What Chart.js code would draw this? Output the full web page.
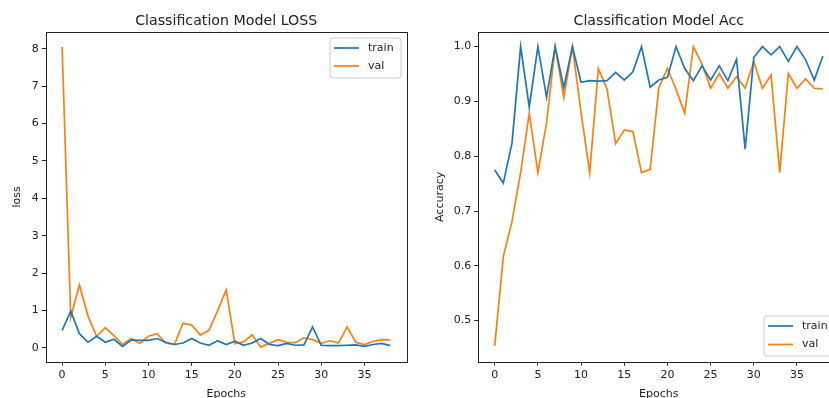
<!DOCTYPE html>
<html>
<head>
<meta charset="utf-8">
<script src="https://cdn.jsdelivr.net/npm/chart.js@4.4.0/dist/chart.umd.min.js"></script>
<style>
    html, body { margin: 0; padding: 0; background: #fff; overflow: hidden; width: 829px; height: 398px; }
    canvas { position: absolute; top: 0; }
    #graficoLoss { left: 0; width: 415px; height: 398px; }
    #graficoAcc { left: 400px; width: 450px; height: 398px; }
</style>
</head>
<body>
<canvas id="graficoLoss" width="415" height="398"></canvas>
<canvas id="graficoAcc" width="450" height="398"></canvas>
<script>
// epocas de treino
const epocas = [0, 1, 2, 3, 4, 5, 6, 7, 8, 9, 10, 11, 12, 13, 14, 15, 16, 17, 18, 19,
    20, 21, 22, 23, 24, 25, 26, 27, 28, 29, 30, 31, 32, 33, 34, 35, 36, 37, 38];

const lossTrain = [0.47, 0.98, 0.38, 0.15, 0.31, 0.15, 0.23, 0.04, 0.21, 0.20,
    0.20, 0.25, 0.15, 0.09, 0.13, 0.25, 0.13, 0.07, 0.19, 0.09,
    0.18, 0.07, 0.13, 0.25, 0.09, 0.06, 0.12, 0.07, 0.08, 0.56,
    0.07, 0.06, 0.06, 0.07, 0.08, 0.04, 0.09, 0.12, 0.06];

const lossVal = [8.05, 0.82, 1.68, 0.85, 0.31, 0.54, 0.33, 0.09, 0.25, 0.12,
    0.31, 0.38, 0.13, 0.09, 0.66, 0.61, 0.34, 0.47, 0.99, 1.55,
    0.11, 0.16, 0.35, 0.02, 0.12, 0.22, 0.15, 0.14, 0.27, 0.22,
    0.12, 0.19, 0.13, 0.56, 0.15, 0.09, 0.17, 0.22, 0.21];

const accTrain = [0.775, 0.751, 0.824, 1.0, 0.890, 1.0, 0.908, 1.0, 0.925, 1.0,
    0.935, 0.938, 0.937, 0.938, 0.953, 0.939, 0.954, 1.0, 0.926, 0.939,
    0.944, 1.0, 0.960, 0.938, 0.965, 0.939, 0.965, 0.938, 0.977, 0.813,
    0.980, 1.0, 0.985, 1.0, 0.973, 1.0, 0.976, 0.939, 0.983];

const accVal = [0.454, 0.617, 0.681, 0.770, 0.878, 0.770, 0.861, 1.0, 0.907, 1.0,
    0.879, 0.770, 0.960, 0.923, 0.823, 0.848, 0.845, 0.770, 0.776, 0.925,
    0.960, 0.922, 0.878, 1.0, 0.968, 0.924, 0.951, 0.924, 0.945, 0.924,
    0.973, 0.924, 0.948, 0.770, 0.951, 0.924, 0.941, 0.924, 0.923];

const ticksX = [0, 5, 10, 15, 20, 25, 30, 35];
const ticksLoss = [0, 1, 2, 3, 4, 5, 6, 7, 8];
const ticksAcc = [0.5, 0.6, 0.7, 0.8, 0.9, 1.0];

const FONTE = "'DejaVu Sans', 'Liberation Sans', sans-serif";
const COR_TEXTO = '#222222';

function pontos(valores) {
    return valores.map(function (v, i) {
        return { x: epocas[i], y: v };
    });
}

// desenha moldura, titulos e legenda no estilo do matplotlib
const pluginMoldura = {
    id: 'moldura',
    afterDraw(chart, args, opts) {
        const ctx = chart.ctx;
        const area = chart.chartArea;
        const meioX = (area.left + area.right) / 2;
        const meioY = (area.top + area.bottom) / 2;

        ctx.save();
        ctx.strokeStyle = '#222222';
        ctx.lineWidth = 1;
        ctx.strokeRect(Math.round(area.left) + 0.5, Math.round(area.top) + 0.5,
            Math.round(area.right - area.left), Math.round(area.bottom - area.top));

        ctx.fillStyle = COR_TEXTO;
        ctx.textAlign = 'center';
        ctx.textBaseline = 'alphabetic';
        ctx.font = `14.2px ${FONTE}`;
        ctx.fillText(opts.titulo, meioX, 25);

        ctx.font = `11px ${FONTE}`;
        ctx.fillText('Epochs', meioX, 396.5);

        ctx.save();
        ctx.translate(opts.eixoYx - (chart.canvas.offsetLeft || 0), meioY);
        ctx.rotate(-Math.PI / 2);
        ctx.textBaseline = 'middle';
        ctx.fillText(opts.eixoY, 0, 0);
        ctx.restore();

        // legenda
        const leg = opts.legenda;
        const caixaX = leg.x - (chart.canvas.offsetLeft || 0);
        ctx.beginPath();
        ctx.roundRect(caixaX + 0.5, leg.y + 0.5, leg.w, leg.h, 3);
        ctx.fillStyle = 'rgba(255,255,255,0.8)';
        ctx.fill();
        ctx.strokeStyle = '#cccccc';
        ctx.stroke();

        chart.data.datasets.forEach(function (ds, i) {
            const y = leg.y + leg.linha0 + i * leg.passo;
            ctx.beginPath();
            ctx.strokeStyle = ds.borderColor;
            ctx.lineWidth = 1.7;
            ctx.moveTo(caixaX + 4.5, y);
            ctx.lineTo(caixaX + 29.5, y);
            ctx.stroke();
            ctx.fillStyle = COR_TEXTO;
            ctx.textAlign = 'left';
            ctx.textBaseline = 'middle';
            ctx.fillText(ds.label, caixaX + 38.5, y);
        });
        ctx.restore();
    }
};

function criarGrafico(idCanvas, cfg) {
    const eixoComum = {
        grid: { drawOnChartArea: false, drawTicks: true, tickLength: 4, color: '#222222' },
        border: { display: false },
        ticks: { color: COR_TEXTO, font: { family: FONTE, size: 11 }, padding: 3, maxRotation: 0, autoSkip: false }
    };

    const config = {
        type: 'line',
        data: {
            datasets: [{
                label: 'train',
                data: pontos(cfg.train),
                borderColor: '#1f77b4',
                borderWidth: 1.7,
                pointRadius: 0,
                fill: false,
                tension: 0
            },
            {
                label: 'val',
                data: pontos(cfg.val),
                borderColor: '#ff7f0e',
                borderWidth: 1.7,
                pointRadius: 0,
                fill: false,
                tension: 0
            }]
        },
        options: {
            responsive: false,
            animation: false,
            events: [],
            layout: { padding: { left: 0, right: cfg.padDireita, top: 32, bottom: 0 } },
            plugins: {
                legend: { display: false },
                title: { display: false },
                tooltip: { enabled: false },
                moldura: cfg.textos
            },
            scales: {
                x: {
                    type: 'linear',
                    min: -1.9,
                    max: 39.9,
                    grid: eixoComum.grid,
                    border: eixoComum.border,
                    ticks: Object.assign({}, eixoComum.ticks, { callback: (v) => String(v) }),
                    afterBuildTicks: (s) => { s.ticks = ticksX.map((v) => ({ value: v })); },
                    afterFit: (s) => { s.height = 398 - 361.7; }
                },
                y: {
                    type: 'linear',
                    min: cfg.yMin,
                    max: cfg.yMax,
                    grid: eixoComum.grid,
                    border: eixoComum.border,
                    ticks: Object.assign({}, eixoComum.ticks, { callback: cfg.formato }),
                    afterBuildTicks: (s) => { s.ticks = cfg.ticksY.map((v) => ({ value: v })); },
                    afterFit: (s) => { s.width = cfg.larguraY; }
                }
            }
        },
        plugins: [pluginMoldura]
    };

    return new Chart(document.getElementById(idCanvas), config);
}

window.onload = () => {
    criarGrafico('graficoLoss', {
        train: lossTrain,
        val: lossVal,
        yMin: -0.37,
        yMax: 8.45,
        ticksY: ticksLoss,
        formato: (v) => String(v),
        larguraY: 45.7,
        padDireita: 415 - 406.7,
        textos: {
            titulo: 'Classification Model LOSS',
            eixoY: 'loss',
            eixoYx: 17,
            legenda: { x: 329.5, y: 37.5, w: 71, h: 40, linha0: 10.5, passo: 18 }
        }
    });

    criarGrafico('graficoAcc', {
        train: accTrain,
        val: accVal,
        yMin: 0.425,
        yMax: 1.0267,
        ticksY: ticksAcc,
        formato: (v) => v.toFixed(1),
        larguraY: 78.3,
        padDireita: 450 - 439.3,
        textos: {
            titulo: 'Classification Model Acc',
            eixoY: 'Accuracy',
            eixoYx: 440,
            legenda: { x: 763.5, y: 315.5, w: 71, h: 40, linha0: 10.5, passo: 18.5 }
        }
    });
};
</script>
</body>
</html>
